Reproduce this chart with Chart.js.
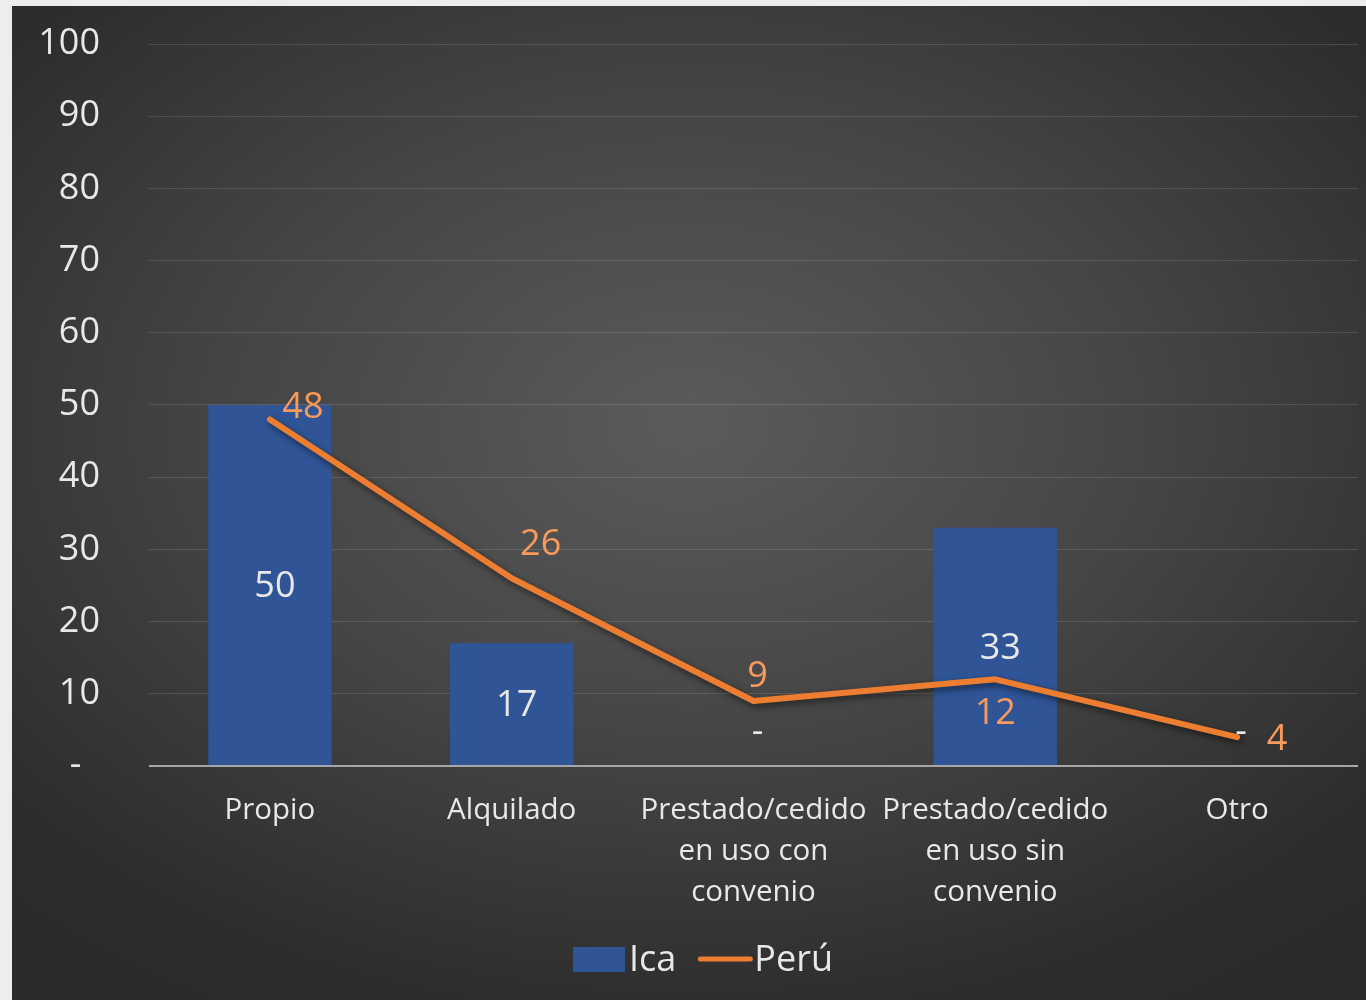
<!DOCTYPE html>
<html>
<head>
<meta charset="utf-8">
<script src="https://cdn.jsdelivr.net/npm/chart.js@4.4.1/dist/chart.umd.min.js"></script>
<style>
  html, body { margin: 0; padding: 0; }
  body {
    width: 1366px; height: 1000px; overflow: hidden;
    background: linear-gradient(155deg, #ecedef 62%, #d3d4d8 62%);
  }
  #panel {
    position: absolute; left: 12px; top: 6px; width: 1354px; height: 994px;
    background: radial-gradient(ellipse 75% 70% at 50% 42%, #5b5b5b 0%, #454545 45%, #2d2d2d 85%, #2a2a2a 100%);
  }
</style>
</head>
<body>
<div id="panel"><canvas id="grafik" width="1354" height="994"></canvas></div>
<script>
// datos
const categorias = [
  "Propio",
  "Alquilado",
  ["Prestado/cedido", "en uso con", "convenio"],
  ["Prestado/cedido", "en uso sin", "convenio"],
  "Otro"
];
const ica = [50, 17, 0, 33, 0];
const peru = [48, 26, 9, 12, 4];
const ticksY = [0, 10, 20, 30, 40, 50, 60, 70, 80, 90, 100];

const FUENTE = "'Open Sans', 'Noto Sans', sans-serif";
const TEXTO = "#e8e8e8";

// desplazamiento de etiquetas de Perú (como en el original de Excel)
const offsetPeru = [[33, -12], [29, -34], [4, -24], [0, 34], [40, 3]];

const etiquetas = {
  id: "etiquetas",
  beforeDatasetDraw(chart, args) {
    if (args.index === 1) {
      const c = chart.ctx;
      c.save();
      c.shadowColor = "rgba(0,0,0,0.55)";
      c.shadowBlur = 7;
      c.shadowOffsetX = 2;
      c.shadowOffsetY = 3;
    }
  },
  afterDatasetDraw(chart, args) {
    if (args.index === 1) chart.ctx.restore();
  },
  afterDatasetsDraw(chart) {
    const c = chart.ctx;
    c.save();
    c.font = "36px " + FUENTE;
    c.textAlign = "center";
    c.textBaseline = "middle";

    // barras Ica
    chart.getDatasetMeta(0).data.forEach((bar, i) => {
      const v = ica[i];
      c.fillStyle = TEXTO;
      if (v === 0) {
        c.fillText("-", bar.x + 4, bar.base - 33);
      } else {
        c.fillText(v, bar.x + 5, (bar.y + bar.base) / 2 + 2);
      }
    });

    // linea Perú
    chart.getDatasetMeta(1).data.forEach((pt, i) => {
      c.fillStyle = "#f79a5c";
      c.fillText(peru[i], pt.x + offsetPeru[i][0], pt.y + offsetPeru[i][1]);
    });
    c.restore();
  }
};

// leyenda dibujada a mano (caja + línea), centrada abajo
const leyenda = {
  id: "leyenda",
  afterDraw(chart) {
    const c = chart.ctx;
    const ds = chart.data.datasets;
    c.save();
    c.font = "36px " + FUENTE;
    c.textBaseline = "middle";
    c.textAlign = "left";
    const sw = 52, gapTxt = 4, gapItem = 22;
    const w0 = c.measureText(ds[0].label).width;
    const w1 = c.measureText(ds[1].label).width;
    const total = sw + gapTxt + w0 + gapItem + sw + gapTxt + w1;
    let x = chart.width / 2 + 14 - total / 2;
    const y = 953;

    c.fillStyle = ds[0].backgroundColor;
    c.fillRect(x, y - 12, sw, 25);
    x += sw + gapTxt;
    c.fillStyle = TEXTO;
    c.fillText(ds[0].label, x, y + 2);
    x += w0 + gapItem;

    c.strokeStyle = ds[1].borderColor;
    c.lineWidth = 5;
    c.lineCap = "round";
    c.beginPath();
    c.moveTo(x + 2, y);
    c.lineTo(x + sw, y);
    c.stroke();
    x += sw + gapTxt;
    c.fillStyle = TEXTO;
    c.fillText(ds[1].label, x, y + 2);
    c.restore();
  }
};

new Chart(document.getElementById("grafik"), {
  data: {
    labels: categorias,
    datasets: [
      {
        type: "bar",
        label: "Ica",
        data: ica,
        backgroundColor: "#2f5597",
        barPercentage: 0.51,
        categoryPercentage: 1,
        order: 1
      },
      {
        type: "line",
        label: "Perú",
        data: peru,
        borderColor: "#ed7d31",
        backgroundColor: "#ed7d31",
        borderWidth: 6,
        borderCapStyle: "round",
        borderJoinStyle: "round",
        pointRadius: 0,
        pointHoverRadius: 0,
        tension: 0,
        order: 0
      }
    ]
  },
  options: {
    responsive: false,
    animation: false,
    events: [],
    layout: { padding: { left: 0, right: 8, top: 38, bottom: 71 } },
    plugins: {
      tooltip: { enabled: false },
      legend: { display: false }
    },
    scales: {
      x: {
        grid: { display: false },
        border: { display: false },
        ticks: {
          color: TEXTO,
          font: { family: FUENTE, size: 29.5, lineHeight: 1.39 },
          padding: 16,
          maxRotation: 0,
          autoSkip: false
        }
      },
      y: {
        min: 0,
        max: 100,
        afterBuildTicks(axis) {
          axis.ticks = ticksY.map(v => ({ value: v }));
        },
        afterFit(axis) {
          axis.width = 137;
          axis.paddingTop = 0;
          axis.paddingBottom = 0;
        },
        border: { display: false },
        grid: {
          drawTicks: false,
          color: ctx => ctx.tick && ctx.tick.value === 0 ? "#a6a6a6" : "rgba(255,255,255,0.13)",
          lineWidth: ctx => ctx.tick && ctx.tick.value === 0 ? 2 : 1
        },
        ticks: {
          color: TEXTO,
          font: { family: FUENTE, size: 36 },
          padding: 49,
          callback: v => v === 0 ? "-  " : v
        }
      }
    }
  },
  plugins: [etiquetas, leyenda]
});
</script>
</body>
</html>
